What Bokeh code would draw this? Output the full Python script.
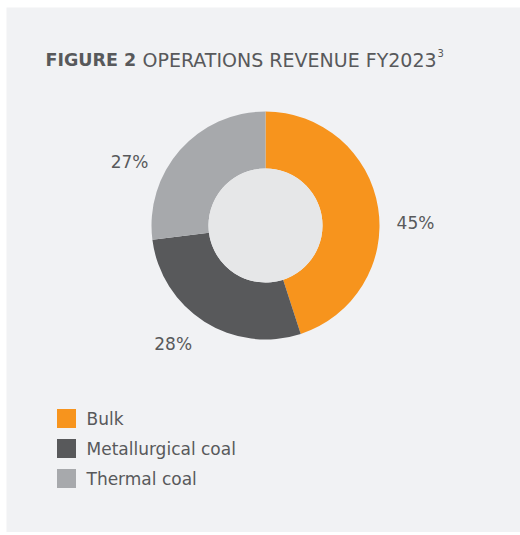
import math
from bokeh.plotting import figure
from bokeh.models import Range1d, ColumnDataSource
from bokeh.core.properties import value
from bokeh.embed import file_html
from bokeh.resources import INLINE

# ---- data ----
categories = ["Bulk", "Metallurgical coal", "Thermal coal"]
shares = [45, 28, 27]
share_labels = ["45%", "28%", "27%"]
colors = ["#f7941d", "#58595b", "#a7a9ac"]
title_bold = "FIGURE 2"
title_rest = "OPERATIONS REVENUE FY2023"
title_sup = "3"

# ---- layout (page pixel coords; y measured upward) ----
W, H = 520, 532
def Y(py):
    return H - py

BG = "#f1f2f4"
HOLE = "#e6e7e8"
TXT = "#58595b"
FONT = value("DejaVu Sans")

cx, cy = 265, Y(225)
r_out, r_in = 114, 57
label_r = 150
label_angles = [1, -128, 155]  # label placement angles (deg)

p = figure(width=W, height=H, output_backend="svg", toolbar_location=None,
           x_range=Range1d(0, W), y_range=Range1d(0, H),
           min_border=0, outline_line_color=None,
           background_fill_color="white", border_fill_color="white")
p.axis.visible = False
p.grid.visible = False

# panel background
p.quad(left=[6], right=[W + 2], bottom=[-2], top=[Y(7)], fill_color=BG, line_color=None)

total = float(sum(shares))
starts, ends = [], []
acc = 0.0
for s in shares:
    starts.append(math.radians(90 - acc / total * 360))
    acc += s
    ends.append(math.radians(90 - acc / total * 360))

src = ColumnDataSource(dict(start=starts, end=ends, color=colors, cat=categories))
p.annular_wedge(x=cx, y=cy, inner_radius=r_in, outer_radius=r_out,
                start_angle="start", end_angle="end", direction="clock",
                fill_color="color", line_color=None, source=src)
p.circle(x=[cx], y=[cy], radius=r_in, fill_color=HOLE, line_color=None)

# percentage labels
lx = [cx + label_r * math.cos(math.radians(a)) for a in label_angles]
ly = [cy + label_r * math.sin(math.radians(a)) for a in label_angles]
p.text(x=lx, y=ly, text=share_labels, text_font=FONT, text_font_size="17px",
       text_color=TXT, text_align="center", text_baseline="middle")

# title
tb = Y(59)
p.text(x=[45], y=[tb], text=[title_bold], text_font=FONT, text_font_size="17.5px",
       text_font_style="bold", text_color=TXT, text_baseline="alphabetic")
p.text(x=[142], y=[tb], text=[title_rest], text_font=FONT, text_font_size="19px",
       text_color=TXT, text_baseline="alphabetic")
p.text(x=[437], y=[tb + 7], text=[title_sup], text_font=FONT, text_font_size="10px",
       text_color=TXT, text_baseline="alphabetic")

# legend
leg_y = [Y(418) - 30 * i for i in range(len(categories))]
p.rect(x=[66] * len(categories), y=leg_y, width=19, height=19,
       fill_color=colors, line_color=None)
p.text(x=[86] * len(categories), y=leg_y, text=categories, text_font=FONT,
       text_font_size="17px", text_color=TXT, text_baseline="middle")

open("out.html", "w").write(file_html(p, INLINE))
